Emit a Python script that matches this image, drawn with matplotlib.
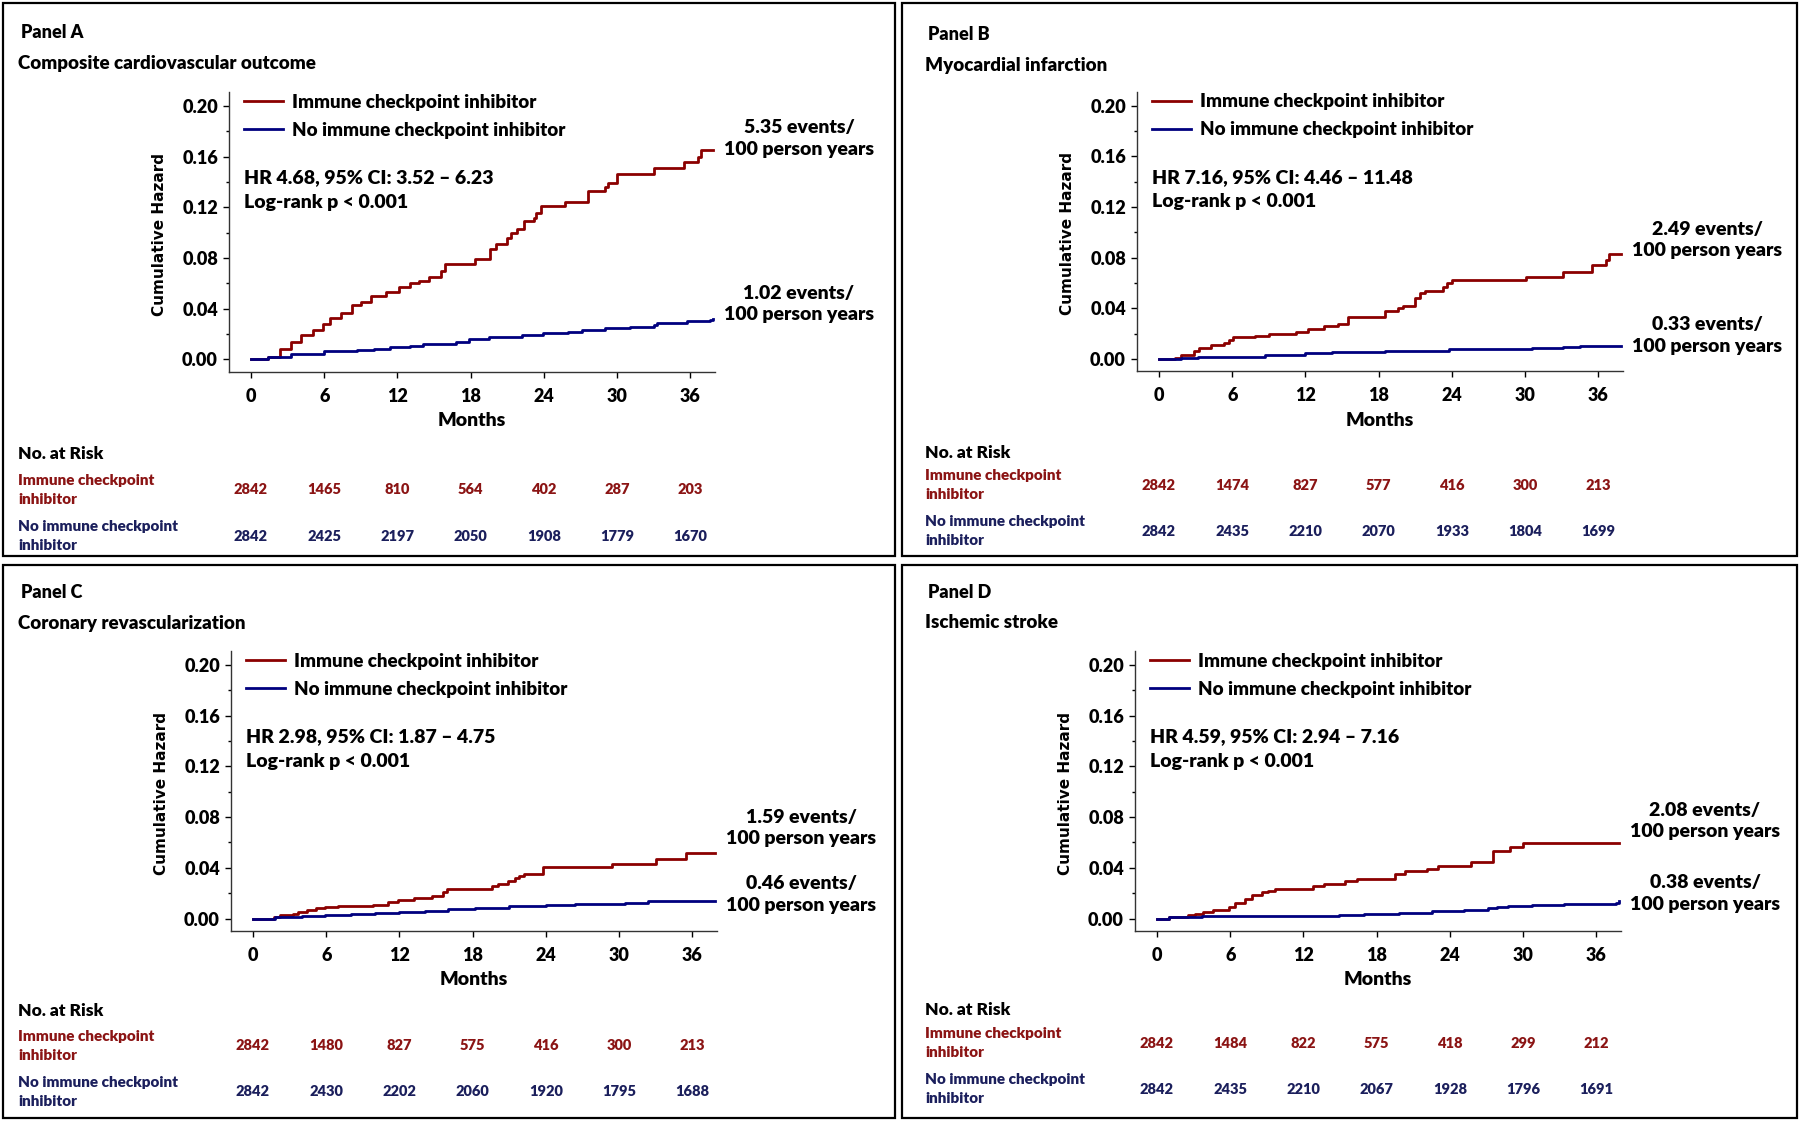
import matplotlib
matplotlib.use('Agg')
import matplotlib.pyplot as plt
import matplotlib.patches as patches
import matplotlib.transforms as mtransforms

plt.rcParams['font.family'] = ['Lato', 'DejaVu Sans']
plt.rcParams['font.weight'] = 'heavy'

RED = '#8B0000'
BLUE = '#00007F'
RED_TXT = '#8B1414'
BLUE_TXT = '#1B1F5C'
FW = 'heavy'

'''Data read off the curves (months, cumulative hazard)'''
months_a_ici = [0, 1.4, 2.35, 3.3, 4.1, 5.05, 5.9, 6.5, 7.35, 8.3, 9.0, 9.8, 11.1, 12.1, 13.0, 13.8, 14.6,
                15.6, 15.9, 18.4, 19.6, 20.1, 21.0, 21.3, 21.8, 22.4, 23.2, 23.4, 23.8, 25.7, 27.6, 29.0,
                29.3, 30.0, 33.0, 35.5, 36.6, 36.9, 37.9]
haz_a_ici = [0, 0.002, 0.0086, 0.014, 0.019, 0.023, 0.028, 0.033, 0.037, 0.043, 0.045, 0.050, 0.053, 0.057,
             0.060, 0.062, 0.065, 0.070, 0.075, 0.079, 0.087, 0.091, 0.096, 0.100, 0.103, 0.109, 0.112, 0.116,
             0.121, 0.124, 0.133, 0.136, 0.139, 0.1465, 0.151, 0.156, 0.160, 0.165, 0.165]
months_a_no = [0, 1.4, 3.3, 6.0, 8.7, 10.1, 11.4, 13.0, 14.1, 16.8, 17.9, 19.5, 22.2, 23.9, 26.0, 27.1, 29.0,
               31.1, 33.0, 33.3, 35.7, 37.6, 37.9]
haz_a_no = [0, 0.002, 0.0047, 0.0068, 0.0073, 0.0086, 0.0097, 0.0107, 0.0125, 0.0139, 0.0165, 0.0178, 0.019,
            0.021, 0.0217, 0.023, 0.0246, 0.0256, 0.027, 0.029, 0.030, 0.031, 0.032]

months_b_ici = [0, 1.3, 1.8, 2.9, 3.3, 4.3, 5.3, 5.7, 6.1, 7.9, 9.0, 11.2, 12.2, 13.5, 14.7, 15.5, 18.5, 19.6,
                20.0, 21.0, 21.4, 21.8, 23.3, 23.6, 24.0, 30.1, 33.1, 35.5, 36.6, 36.9, 37.9]
haz_b_ici = [0, 0.0005, 0.003, 0.006, 0.0085, 0.011, 0.0125, 0.015, 0.017, 0.018, 0.020, 0.021, 0.024, 0.026,
             0.028, 0.033, 0.038, 0.040, 0.042, 0.048, 0.052, 0.054, 0.057, 0.060, 0.062, 0.065, 0.069, 0.074,
             0.078, 0.083, 0.083]
months_b_no = [0, 1.8, 3.2, 8.7, 12.0, 14.2, 18.5, 23.8, 29.8, 30.6, 33.1, 34.5, 37.9]
haz_b_no = [0, 0.001, 0.0019, 0.0032, 0.0045, 0.0058, 0.0066, 0.0077, 0.008, 0.0088, 0.0098, 0.0106, 0.0106]

months_c_ici = [0, 1.7, 2.2, 3.3, 3.7, 4.4, 5.2, 5.9, 7.0, 9.8, 11.1, 11.9, 13.2, 14.7, 15.6, 15.9, 19.6, 20.1,
                20.9, 21.5, 21.8, 22.2, 23.8, 29.4, 33.0, 35.5, 37.9]
haz_c_ici = [0, 0.0013, 0.0026, 0.0039, 0.0053, 0.0066, 0.0079, 0.0092, 0.0097, 0.011, 0.013, 0.0145, 0.0158,
             0.018, 0.021, 0.023, 0.0255, 0.0276, 0.0295, 0.0316, 0.0337, 0.0355, 0.0403, 0.0434, 0.047, 0.0518,
             0.0518]
months_c_no = [0, 1.8, 4.0, 5.9, 8.0, 10.0, 12.0, 14.1, 16.0, 18.2, 21.0, 24.0, 26.4, 30.5, 32.4, 37.9]
haz_c_no = [0, 0.0013, 0.0018, 0.0024, 0.0034, 0.0045, 0.0053, 0.0063, 0.0072, 0.0084, 0.0097, 0.0105, 0.0118,
            0.0124, 0.0137, 0.0137]

months_d_ici = [0, 1.0, 2.5, 3.1, 3.8, 4.6, 5.9, 6.4, 7.2, 7.8, 8.6, 9.1, 9.7, 12.8, 13.7, 15.4, 16.4, 19.5,
                20.3, 22.1, 23.0, 25.7, 27.5, 28.9, 30.0, 37.9]
haz_d_ici = [0, 0.0013, 0.0026, 0.0039, 0.0052, 0.0071, 0.0092, 0.0123, 0.0157, 0.0183, 0.021, 0.022, 0.0236,
             0.0254, 0.027, 0.0294, 0.031, 0.0354, 0.0372, 0.039, 0.0417, 0.0443, 0.0532, 0.0563, 0.0595, 0.0595]
months_d_no = [0, 1.0, 3.7, 14.9, 17.0, 19.8, 22.5, 25.2, 27.1, 27.9, 28.8, 30.7, 33.4, 36.1, 37.6, 37.9]
haz_d_no = [0, 0.0008, 0.0018, 0.0024, 0.0034, 0.0047, 0.006, 0.007, 0.0079, 0.0092, 0.0102, 0.0105, 0.0113,
            0.0118, 0.0123, 0.0139]

risk_months = [0, 6, 12, 18, 24, 30, 36]
risk_a_ici = [2842, 1465, 810, 564, 402, 287, 203]
risk_a_no = [2842, 2425, 2197, 2050, 1908, 1779, 1670]
risk_b_ici = [2842, 1474, 827, 577, 416, 300, 213]
risk_b_no = [2842, 2435, 2210, 2070, 1933, 1804, 1699]
risk_c_ici = [2842, 1480, 827, 575, 416, 300, 213]
risk_c_no = [2842, 2430, 2202, 2060, 1920, 1795, 1688]
risk_d_ici = [2842, 1484, 822, 575, 418, 299, 212]
risk_d_no = [2842, 2435, 2210, 2067, 1928, 1796, 1691]

panel_names = ['Panel A', 'Panel B', 'Panel C', 'Panel D']
outcomes = ['Composite cardiovascular outcome', 'Myocardial infarction',
            'Coronary revascularization', 'Ischemic stroke']
hr_texts = ['HR 4.68, 95% CI: 3.52 – 6.23', 'HR 7.16, 95% CI: 4.46 – 11.48',
            'HR 2.98, 95% CI: 1.87 – 4.75', 'HR 4.59, 95% CI: 2.94 – 7.16']
rate_ici = ['5.35', '2.49', '1.59', '2.08']
rate_no = ['1.02', '0.33', '0.46', '0.38']

W, H = 1800, 1122
fig = plt.figure(figsize=(18, 11.22), dpi=100)


def fx(x):
    return x / W


def fy(y):
    return 1 - y / H


PX_MONTH = 12.2
PX_UNIT = 1267
XMIN, XMAX = -1.8, 38.0
YMIN, YMAX = -0.0095, 0.211

# layout per panel (pixels): box, data origin, text rows
boxes = [(3, 3, 895, 556), (902, 3, 1797, 556), (3, 565, 895, 1118), (902, 565, 1797, 1118)]
origins = [(251, 359.5), (1159, 359), (253, 918.5), (1157, 918.5)]
label_x = [21, 928, 21, 928]
name_y = [32, 34, 592, 592]
outcome_y = [63, 65, 623, 622]
rate_y_ici = [138.5, 240, 828, 821]
rate_y_no = [304, 335.5, 894.5, 893.5]
risk_head_y = [454, 453, 1011, 1010]
risk_ici_y = [490, 485, 1046, 1043]
risk_no_y = [536, 531, 1092, 1089]

curves = [(months_a_ici, haz_a_ici, months_a_no, haz_a_no),
          (months_b_ici, haz_b_ici, months_b_no, haz_b_no),
          (months_c_ici, haz_c_ici, months_c_no, haz_c_no),
          (months_d_ici, haz_d_ici, months_d_no, haz_d_no)]
risks = [(risk_a_ici, risk_a_no), (risk_b_ici, risk_b_no), (risk_c_ici, risk_c_no), (risk_d_ici, risk_d_no)]

for i in range(4):
    bx0, by0, bx1, by1 = boxes[i]
    fig.add_artist(patches.Rectangle((fx(bx0), fy(by1)), (bx1 - bx0) / W, (by1 - by0) / H,
                                     transform=fig.transFigure, fill=False, lw=1.6, ec='black'))
    x0, y0 = origins[i]
    left = x0 + XMIN * PX_MONTH
    right = x0 + XMAX * PX_MONTH
    top = y0 - YMAX * PX_UNIT
    bottom = y0 - YMIN * PX_UNIT
    ax = fig.add_axes([fx(left), fy(bottom), (right - left) / W, (bottom - top) / H])
    m1, h1, m2, h2 = curves[i]
    ax.step(m1, h1, where='post', color=RED, lw=2.0, label='Immune checkpoint inhibitor')
    ax.step(m2, h2, where='post', color=BLUE, lw=2.0, label='No immune checkpoint inhibitor')
    ax.set_xlim(XMIN, XMAX)
    ax.set_ylim(YMIN, YMAX)
    ax.set_xticks(risk_months)
    ax.set_yticks([0, 0.04, 0.08, 0.12, 0.16, 0.20])
    ax.set_yticklabels(['0.00', '0.04', '0.08', '0.12', '0.16', '0.20'])
    ax.set_yticks([0.02, 0.06, 0.10, 0.14, 0.18], minor=True)
    ax.tick_params(axis='both', which='major', labelsize=13, length=4, width=1, pad=4)
    ax.tick_params(axis='x', pad=7.5)
    ax.tick_params(axis='y', which='minor', length=2.5, width=1)
    for s in ['top', 'right']:
        ax.spines[s].set_visible(False)
    for s in ['left', 'bottom']:
        ax.spines[s].set_linewidth(1.0)
        ax.spines[s].set_color('#333333')
    ax.set_xlabel('Months', fontsize=14, fontweight=FW, labelpad=5.5)
    fig.text(fx(x0 - 91), fy(y0 - 125), 'Cumulative Hazard', rotation=90, ha='center', va='center',
             fontsize=11, fontweight='bold', family='DejaVu Sans')

    ax.legend(loc='upper left', bbox_to_anchor=(-0.57, 0.2097), bbox_transform=ax.transData,
              frameon=False, fontsize=13.5, handlelength=2.1, handletextpad=0.45, borderpad=0,
              borderaxespad=0, labelspacing=0.58)
    ax.text(-0.6, 0.1435, hr_texts[i], fontsize=14, fontweight=FW, va='center', ha='left')
    ax.text(-0.6, 0.124, 'Log-rank p < 0.001', fontsize=14, fontweight=FW, va='center', ha='left')

    fig.text(fx(x0 + 548), fy(rate_y_ici[i]), rate_ici[i] + ' events/\n100 person years', ha='center',
             va='center', fontsize=14, fontweight=FW, linespacing=1.35)
    fig.text(fx(x0 + 548), fy(rate_y_no[i]), rate_no[i] + ' events/\n100 person years', ha='center',
             va='center', fontsize=14, fontweight=FW, linespacing=1.35)

    fig.text(fx(label_x[i]), fy(name_y[i]), panel_names[i], fontsize=13, fontweight=FW, va='center')
    fig.text(fx(label_x[i] - 3), fy(outcome_y[i]), outcomes[i], fontsize=13.5, fontweight=FW, va='center')

    '''Number at risk table'''
    fig.text(fx(label_x[i] - 3), fy(risk_head_y[i]), 'No. at Risk', fontsize=12.5, fontweight=FW,
             va='center')
    fig.text(fx(label_x[i] - 3), fy(risk_ici_y[i]), 'Immune checkpoint\ninhibitor', fontsize=11,
             fontweight=FW, va='center', color=RED_TXT, linespacing=1.5)
    fig.text(fx(label_x[i] - 3), fy(risk_no_y[i]), 'No immune checkpoint\ninhibitor', fontsize=11,
             fontweight=FW, va='center', color=BLUE_TXT, linespacing=1.5)
    trans = mtransforms.blended_transform_factory(ax.transData, fig.transFigure)
    r_ici, r_no = risks[i]
    for m, a, b in zip(risk_months, r_ici, r_no):
        ax.text(m, fy(risk_ici_y[i]), str(a), transform=trans, ha='center', va='center', fontsize=10.5,
                fontweight=FW, color=RED_TXT, clip_on=False)
        ax.text(m, fy(risk_no_y[i]), str(b), transform=trans, ha='center', va='center', fontsize=10.5,
                fontweight=FW, color=BLUE_TXT, clip_on=False)

plt.savefig('out.png', dpi=100)
